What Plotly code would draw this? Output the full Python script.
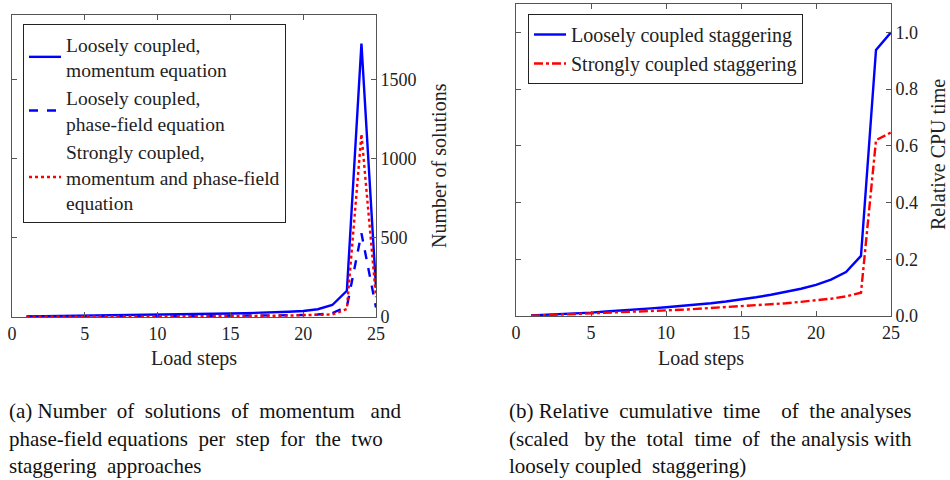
import plotly.graph_objects as go

steps = list(range(1, 26))

loose_momentum = [4, 5, 6, 7, 8, 9, 10, 11, 12, 13, 14, 16, 18, 20, 22, 24, 26, 30, 33, 38, 49, 76, 166, 1730, 185]
loose_phase = [2, 2, 3, 3, 3, 4, 4, 5, 5, 5, 6, 6, 7, 7, 8, 8, 9, 10, 11, 13, 16, 25, 65, 530, 60]
strong_both = [1, 2, 2, 2, 3, 3, 3, 4, 4, 4, 5, 5, 5, 6, 6, 7, 7, 8, 9, 10, 12, 16, 50, 1158, 125]

cpu_loose = [0.002, 0.004, 0.007, 0.009, 0.012, 0.016, 0.019, 0.023, 0.027, 0.031, 0.035, 0.040, 0.045,
             0.051, 0.058, 0.066, 0.075, 0.085, 0.096, 0.110, 0.128, 0.155, 0.212, 0.938, 1.0]
cpu_strong = [0.001, 0.003, 0.004, 0.006, 0.008, 0.010, 0.012, 0.014, 0.017, 0.020, 0.022, 0.025, 0.028,
              0.031, 0.034, 0.037, 0.041, 0.045, 0.050, 0.055, 0.061, 0.069, 0.082, 0.620, 0.647]

x_ticks = [0, 5, 10, 15, 20, 25]
y1_ticks = [0, 500, 1000, 1500]
y2_ticks = [0, 0.2, 0.4, 0.6, 0.8, 1.0]
y2_labels = ["0.0", "0.2", "0.4", "0.6", "0.8", "1.0"]

FONT = "Liberation Serif, Times New Roman, DejaVu Serif, serif"
W, H = 950, 480
BLUE = "#0000ff"
RED = "#ff0000"
AX = "#555555"
TXT = "#222222"
LW = 2.4


def px(x):
    return x / W


def py(y):
    return 1 - y / H


fig = go.Figure()
fig.add_trace(go.Scatter(x=steps, y=loose_momentum, mode="lines", name="Loosely coupled,<br>momentum equation",
                         line=dict(color=BLUE, width=LW), xaxis="x", yaxis="y", legend="legend"))
fig.add_trace(go.Scatter(x=steps, y=loose_phase, mode="lines", name="Loosely coupled,<br>phase-field equation",
                         line=dict(color=BLUE, width=LW, dash="dash"), xaxis="x", yaxis="y", legend="legend"))
fig.add_trace(go.Scatter(x=steps, y=strong_both, mode="lines",
                         name="Strongly coupled,<br>momentum and phase-field<br>equation",
                         line=dict(color=RED, width=LW, dash="dot"), xaxis="x", yaxis="y", legend="legend"))
fig.add_trace(go.Scatter(x=steps, y=cpu_loose, mode="lines", name="Loosely coupled staggering",
                         line=dict(color=BLUE, width=LW), xaxis="x2", yaxis="y2", legend="legend2"))
fig.add_trace(go.Scatter(x=steps, y=cpu_strong, mode="lines", name="Strongly coupled staggering",
                         line=dict(color=RED, width=LW, dash="dashdot"), xaxis="x2", yaxis="y2", legend="legend2"))

axis_common = dict(showgrid=False, zeroline=False, showline=True, linecolor=AX, linewidth=1,
                   mirror="ticks", ticks="inside", ticklen=5, tickcolor=AX, automargin=False,
                   tickfont=dict(family=FONT, size=18, color=TXT))

fig.update_layout(
    width=W, height=H,
    margin=dict(l=0, r=0, t=0, b=0, pad=0, autoexpand=False),
    paper_bgcolor="white", plot_bgcolor="white",
    font=dict(family=FONT, size=18, color=TXT),
    xaxis=dict(domain=[px(12), px(376)], range=[0, 25], tickvals=x_ticks, anchor="y", **axis_common),
    yaxis=dict(domain=[py(317), py(15)], range=[0, 1911], tickvals=y1_ticks, side="right", anchor="x",
               **axis_common),
    xaxis2=dict(domain=[px(516), px(891)], range=[0, 25], tickvals=x_ticks, anchor="y2", **axis_common),
    yaxis2=dict(domain=[py(316), py(4)], range=[0, 1.1], tickvals=y2_ticks, ticktext=y2_labels,
                side="right", anchor="x2", **axis_common),
    legend=dict(x=px(23), y=py(24), xanchor="left", yanchor="top", bgcolor="white",
                bordercolor=TXT, borderwidth=1, font=dict(family=FONT, size=19.5, color=TXT),
                tracegroupgap=2, itemwidth=32),
    legend2=dict(x=px(528), y=py(14), xanchor="left", yanchor="top", bgcolor="white",
                 bordercolor=TXT, borderwidth=1, font=dict(family=FONT, size=20, color=TXT),
                 itemwidth=32),
    showlegend=True,
)

ann = []


def label(text, x, y, size, angle=0, xanchor="center", color=TXT):
    ann.append(dict(text=text, x=px(x), y=py(y), xref="paper", yref="paper", showarrow=False,
                    xanchor=xanchor, yanchor="middle", textangle=angle,
                    font=dict(family=FONT, size=size, color=color)))


label("Load steps", 194, 358, 20)
label("Load steps", 701, 358, 20)
label("Number of solutions", 439, 166, 20, angle=-90)
label("Relative CPU time", 938, 155, 20, angle=-90)

S = "&nbsp;"
cap_a = ["(a) Number" + S + " of" + S + " solutions" + S + " of" + S + " momentum" + S + S + " and",
         "phase-field equations" + S + " per" + S + " step" + S + " for" + S + " the" + S + " two",
         "staggering" + S + " approaches"]
cap_b = ["(b) Relative" + S + " cumulative" + S + " time" + S + S + S + " of" + S + " the analyses",
         "(scaled" + S + S + " by the" + S + " total" + S + " time" + S + " of" + S + " the analysis with",
         "loosely coupled" + S + " staggering)"]
for i, (la, lb) in enumerate(zip(cap_a, cap_b)):
    yy = 411 + 27.5 * i
    label(la, 7, yy, 21, xanchor="left", color="#111111")
    label(lb, 507, yy, 21, xanchor="left", color="#111111")

fig.update_layout(annotations=ann)
fig.write_html("out.html", config={"displayModeBar": False},
               post_script="document.body.style.margin='0';")
